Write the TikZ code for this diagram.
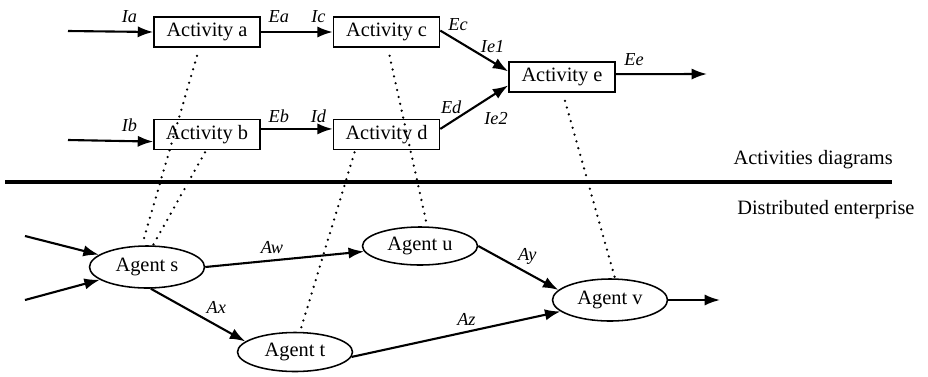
\documentclass[tikz,border=0pt]{standalone}
\usepackage{fontspec}
\setmainfont{Liberation Serif}
\usepackage{tikz}
\usetikzlibrary{shapes,arrows.meta,positioning}

\begin{document}
\begin{tikzpicture}[
    node distance=1.8cm,
    act/.style={rectangle, draw, line width=1.1pt, minimum width=2.65cm, minimum height=0.75cm, text centered, font=\fontsize{14.5}{17}\selectfont},
    agent/.style={ellipse, draw, line width=1.1pt, inner sep=1pt, minimum width=2.875cm, minimum height=1.05cm, font=\fontsize{14.5}{17}\selectfont},
    lbl/.style={font=\fontsize{13}{15}\selectfont\itshape, inner sep=2pt},
    edge/.style={-{Latex[length=11pt,width=8pt]}, line width=1.5pt},
    link/.style={line width=1.8pt, line cap=round, dash pattern=on 0pt off 5pt},
    sep/.style={line width=2.8pt}
]
    \useasboundingbox (0,0) rectangle (23.2,-9.4);

    % activities
    \node[act] (a) at (5.175,-0.8) {Activity a};
    \node[act, right=of a] (c) {Activity c};
    \node[act, below=1.775cm of a] (b) {Activity b};
    \node[act, right=of b] (d) {Activity d};
    \node[act] (e) at (14.05,-1.925) {Activity e};

    % agents
    \node[agent] (s) at (3.675,-6.675) {Agent s};
    \node[agent, minimum height=0.95cm] (u) at (10.5,-6.15) {Agent u};
    \node[agent, minimum height=0.975cm] (t) at (7.375,-8.8) {Agent t};
    \node[agent] (v) at (15.25,-7.5) {Agent v};

    % free ends
    \coordinate (ia) at (1.7,-0.775);
    \coordinate (ib) at (1.7,-3.5);
    \coordinate (eout) at (17.675,-1.85);
    \coordinate (in1) at (0.625,-5.9);
    \coordinate (in2) at (0.625,-7.5);
    \coordinate (vout) at (18.0,-7.5);

    % activity flows
    \draw[edge] (ia) -- node[lbl, above, pos=0.72, yshift=4pt] {Ia} (a.west);
    \draw[edge] (ib) -- node[lbl, above, pos=0.72, yshift=4pt] {Ib} ([yshift=-5pt]b.west);
    \draw[edge] (a) -- node[lbl, above, pos=0.25, yshift=4pt] {Ea} node[lbl, above, pos=0.8, yshift=4pt] {Ic} (c);
    \draw[edge] ([yshift=4pt]b.east) -- node[lbl, above, pos=0.25, yshift=2pt] {Eb} node[lbl, above, pos=0.8, yshift=2pt] {Id} ([yshift=4pt]d.west);
    \draw[edge] ([yshift=1pt]c.east) -- node[lbl, above, pos=0.2, xshift=3pt, yshift=3pt] {Ec} node[lbl, above, pos=0.77, yshift=4pt] {Ie1} ([yshift=4pt]e.west);
    \draw[edge] ([yshift=4pt]d.east) -- node[lbl, above, pos=0.16, yshift=3pt] {Ed} node[lbl, below, pos=0.82, yshift=-11pt] {Ie2} ([yshift=-6pt]e.west);
    \draw[edge] ([yshift=2pt]e.east) -- node[lbl, above, pos=0.2, yshift=3pt] {Ee} (eout);

    % agent flows
    \draw[edge] (in1) -- (s);
    \draw[edge] (in2) -- (s);
    \draw[edge] (s.east) -- node[lbl, above, pos=0.42, yshift=2pt] {Aw} (u);
    \draw[edge] (s.-80) -- node[lbl, above right, pos=0.55] {Ax} (t.168);
    \draw[edge] (u.east) -- node[lbl, above right, pos=0.45, yshift=-2pt] {Ay} (v.169);
    \draw[edge] (t.-5) -- node[lbl, above, pos=0.55, yshift=2pt] {Az} (v.193);
    \draw[edge] (v.east) -- (vout);

    % mapping activities to agents
    \draw[link] ([xshift=-0.25cm, yshift=-0.2cm]a.south) -- ([xshift=-0.1cm, yshift=0.09cm]s.north);
    \draw[link] ([xshift=-0.05cm, yshift=-0.05cm]b.south) -- ([xshift=0.15cm]s.north);
    \draw[link] ([xshift=0.075cm, yshift=-0.2cm]c.south) -- ([xshift=0.175cm, yshift=0.025cm]u.north);
    \draw[link] ([xshift=-0.8cm, yshift=-0.05cm]d.south) -- ([xshift=0.125cm]t.north);
    \draw[link] ([xshift=0.075cm, yshift=-0.2cm]e.south) -- ([xshift=0.125cm]v.north);

    % separator
    \draw[sep] (0.125,-4.55) -- (22.3,-4.55);
    \node[inner sep=0, anchor=east, font=\fontsize{14.5}{17}\selectfont] (top) at (22.325,-4.0) {Activities diagrams};
    \node[inner sep=0, anchor=west, font=\fontsize{14.5}{17}\selectfont] (bottom) at (18.425,-5.25) {Distributed enterprise};
\end{tikzpicture}
\end{document}
